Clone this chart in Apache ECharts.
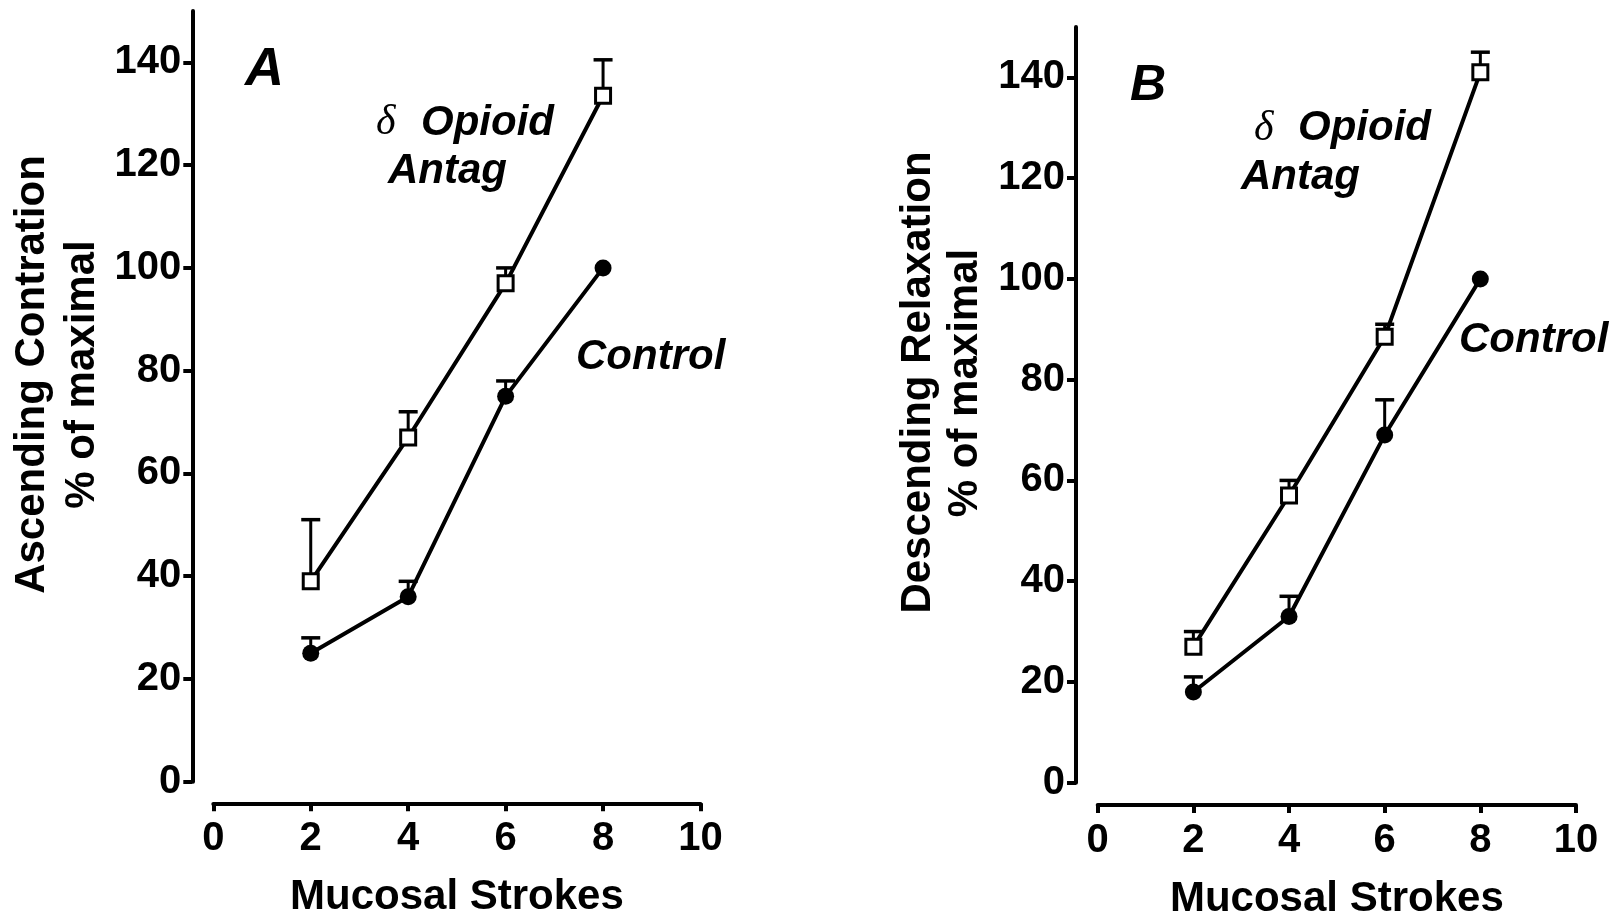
<!DOCTYPE html>
<html>
<head>
<meta charset="utf-8">
<script src="https://cdn.jsdelivr.net/npm/echarts@6/dist/echarts.min.js"></script>
<style>
  html, body { margin: 0; padding: 0; background: #fff; }
  #chart { width: 1616px; height: 917px; }
</style>
</head>
<body>
<div id="chart"></div>
<script>
// data
const strokes = [2, 4, 6, 8];
const xTicks = [0, 2, 4, 6, 8, 10];
const yTicks = [0, 20, 40, 60, 80, 100, 120, 140];

// panel A: ascending contraction
const ascAntag = [39, 67, 97, 133.5];
const ascAntagErr = [12, 5, 3, 7];
const ascControl = [25, 36, 75, 100];
const ascControlErr = [3, 3, 3, 0];

// panel B: descending relaxation
const descAntag = [27, 57, 88.5, 141];
const descAntagErr = [3, 3, 2.5, 4];
const descControl = [18, 33, 69, 100];
const descControlErr = [3, 4, 7, 0];

const FONT = "'Liberation Sans', Arial, sans-serif";

function pairs(vals) {
  return strokes.map((x, i) => [x, vals[i]]);
}
function errData(vals, errs) {
  return strokes.map((x, i) => [x, vals[i], errs[i]]);
}

function renderErr(params, api) {
  const x = api.value(0), y = api.value(1), e = api.value(2);
  if (!e) return null;
  const p0 = api.coord([x, y]);
  const p1 = api.coord([x, y + e]);
  return {
    type: "group",
    children: [
      { type: "line", shape: { x1: p0[0], y1: p0[1], x2: p1[0], y2: p1[1] }, style: { stroke: "#000", lineWidth: 3 } },
      { type: "line", shape: { x1: p1[0] - 9.5, y1: p1[1], x2: p1[0] + 9.5, y2: p1[1] }, style: { stroke: "#000", lineWidth: 3.5 } }
    ]
  };
}

function xAxisFor(idx, offset) {
  return {
    type: "value", gridIndex: idx, min: 0, max: 10, interval: 2,
    offset: offset,
    name: "Mucosal Strokes", nameLocation: "middle", nameGap: 73,
    nameTextStyle: { fontFamily: FONT, fontWeight: "bold", fontSize: 42, color: "#000" },
    splitLine: { show: false },
    axisLine: { show: true, onZero: false, lineStyle: { color: "#000", width: 4 } },
    axisTick: { show: true, length: 8, customValues: xTicks, lineStyle: { color: "#000", width: 4 } },
    axisLabel: { margin: 16, customValues: xTicks, fontFamily: FONT, fontWeight: "bold", fontSize: 40, color: "#000" }
  };
}
function yAxisFor(idx, offset) {
  return {
    type: "value", gridIndex: idx, min: 0, max: 150,
    offset: offset,
    splitLine: { show: false },
    axisLine: { show: true, onZero: false, lineStyle: { color: "#000", width: 4 } },
    axisTick: { show: true, length: 9, customValues: yTicks, lineStyle: { color: "#000", width: 4 } },
    axisLabel: { margin: 11, customValues: yTicks, fontFamily: FONT, fontWeight: "bold", fontSize: 40, color: "#000" }
  };
}

function lineSeries(idx, vals, isAntag) {
  return {
    type: "line", xAxisIndex: idx, yAxisIndex: idx, z: 3,
    data: pairs(vals),
    lineStyle: { color: "#000", width: 4 },
    symbol: isAntag ? "rect" : "circle",
    symbolSize: isAntag ? 15 : 17,
    itemStyle: isAntag
      ? { color: "#fff", borderColor: "#000", borderWidth: 3 }
      : { color: "#000", borderColor: "#000", borderWidth: 0 },
    emphasis: { disabled: true },
    animation: false
  };
}
function errSeries(idx, vals, errs) {
  return {
    type: "custom", xAxisIndex: idx, yAxisIndex: idx, z: 2,
    data: errData(vals, errs),
    encode: { x: 0, y: 1 },
    renderItem: renderErr,
    animation: false
  };
}

function label(text, x, y, size, opts) {
  return {
    type: "text", x: x, y: y, rotation: (opts && opts.rotation) || 0,
    style: {
      text: text, x: 0, y: 0,
      fontFamily: (opts && opts.family) || FONT,
      fontWeight: (opts && opts.weight) || "bold",
      fontStyle: (opts && opts.style) || "normal",
      fontSize: size, fill: "#000",
      align: (opts && opts.align) || "left", verticalAlign: "middle"
    }
  };
}

const chart = echarts.init(document.getElementById("chart"));
chart.setOption({
  backgroundColor: "#fff",
  animation: false,
  grid: [
    { left: 213.3, right: 915.5, top: 11, bottom: 135.3, outerBoundsMode: "none" },
    { left: 1097.7, right: 40, top: 27, bottom: 134.3, outerBoundsMode: "none" }
  ],
  xAxis: [xAxisFor(0, 21.6), xAxisFor(1, 22.3)],
  yAxis: [yAxisFor(0, 21), yAxisFor(1, 21.7)],
  series: [
    errSeries(0, ascAntag, ascAntagErr),
    errSeries(0, ascControl, ascControlErr),
    lineSeries(0, ascAntag, true),
    lineSeries(0, ascControl, false),
    errSeries(1, descAntag, descAntagErr),
    errSeries(1, descControl, descControlErr),
    lineSeries(1, descAntag, true),
    lineSeries(1, descControl, false)
  ],
  graphic: [
    // y axis titles
    label("Ascending Contration", 32.4, 374.5, 42, { rotation: Math.PI / 2, align: "center" }),
    label("% of maximal", 82.4, 374.5, 42, { rotation: Math.PI / 2, align: "center" }),
    label("Descending Relaxation", 918.4, 382.5, 42, { rotation: Math.PI / 2, align: "center" }),
    label("% of maximal", 965.4, 383, 42, { rotation: Math.PI / 2, align: "center" }),
    // panel letters
    label("A", 245, 89 - 0.3465 * 54, 54, { style: "italic" }),
    label("B", 1130, 104 - 0.3465 * 50, 50, { style: "italic" }),
    // panel A annotations
    label("δ", 376, 138 - 14.6, 42, { family: "'Liberation Serif', 'DejaVu Serif', serif", weight: "normal", style: "italic" }),
    label("Opioid", 421, 138 - 14.6, 42, { style: "italic" }),
    label("Antag", 388, 186 - 14.6, 42, { style: "italic" }),
    label("Control", 576, 371.7 - 14.6, 42, { style: "italic" }),
    // panel B annotations
    label("δ", 1254, 143.3 - 14.6, 42, { family: "'Liberation Serif', 'DejaVu Serif', serif", weight: "normal", style: "italic" }),
    label("Opioid", 1298, 143.3 - 14.6, 42, { style: "italic" }),
    label("Antag", 1241, 191.7 - 14.6, 42, { style: "italic" }),
    label("Control", 1459, 355 - 14.6, 42, { style: "italic" })
  ]
});
</script>
</body>
</html>
